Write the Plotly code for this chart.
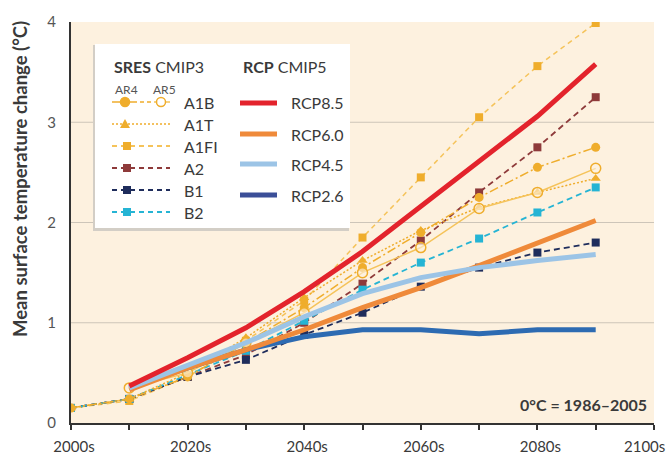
import plotly.graph_objects as go

# ---------------- data ----------------
years_sres = [2000, 2010, 2020, 2030, 2040, 2050, 2060, 2070, 2080, 2090]
a1b_ar4 = [0.15, 0.24, 0.46, 0.80, 1.15, 1.55, 1.90, 2.25, 2.55, 2.75]
a1b_ar5 = [None, 0.35, 0.50, 0.80, 1.10, 1.50, 1.75, 2.14, 2.30, 2.54]
a1t = [0.15, 0.24, 0.50, 0.85, 1.25, 1.62, 1.92, 2.15, 2.30, 2.44]
a1fi = [0.15, 0.22, 0.46, 0.82, 1.22, 1.85, 2.45, 3.05, 3.56, 3.99]
a2 = [0.15, 0.24, 0.46, 0.68, 1.00, 1.39, 1.82, 2.30, 2.75, 3.25]
b1 = [0.15, 0.24, 0.46, 0.63, 0.88, 1.10, 1.36, 1.55, 1.70, 1.80]
b2 = [0.15, 0.24, 0.48, 0.72, 1.02, 1.33, 1.60, 1.84, 2.10, 2.35]

years_rcp = [2010, 2020, 2030, 2040, 2050, 2060, 2070, 2080, 2090]
rcp85 = [0.37, 0.65, 0.95, 1.31, 1.71, 2.16, 2.61, 3.06, 3.58]
rcp60 = [0.33, 0.55, 0.73, 0.93, 1.15, 1.35, 1.57, 1.80, 2.02]
rcp45 = [0.35, 0.58, 0.80, 1.06, 1.29, 1.45, 1.55, 1.62, 1.68]
rcp26 = [0.35, 0.55, 0.73, 0.86, 0.93, 0.93, 0.89, 0.93, 0.93]

x_tickvals = [2000, 2010, 2020, 2030, 2040, 2050, 2060, 2070, 2080, 2090, 2100]
x_ticktext = ["2000s", "", "2020s", "", "2040s", "", "2060s", "", "2080s", "", ""]
y_tickvals = [0, 1, 2, 3, 4]
y_ticktext = ["0", "1", "2", "3", "4"]
gridvals = [1, 2, 3]

FONT = "Lato, Open Sans, sans-serif"
TXT = "#3a3a3a"
GOLD = "#efad2c"
GOLD_L = "#f5c35a"
A2C = "#8e3a3a"
B1C = "#1f2d5c"
B2C = "#25b4d4"
RED = "#e3232c"
ORANGE = "#ef8a3a"
LBLUE = "#9cc4e6"
BLUE = "#2d6bb2"
BLUE_LEG = "#3b4f98"

# plot area in pixels
L, R, T, B = 71, 654, 22, 423
W, H = 669, 456


def PX(x):
    return (x - L) / (R - L)


def PY(y):
    return (B - y) / (B - T)


fig = go.Figure()

# SRES series
fig.add_trace(go.Scatter(x=years_sres, y=a1fi, mode="lines+markers",
                         line=dict(color=GOLD_L, width=1.5, dash="5px,4px"),
                         marker=dict(symbol="square", size=8, color=GOLD)))
fig.add_trace(go.Scatter(x=years_sres, y=a2, mode="lines+markers",
                         line=dict(color=A2C, width=1.8, dash="6px,4px"),
                         marker=dict(symbol="square", size=8, color=A2C)))
fig.add_trace(go.Scatter(x=years_sres, y=b1, mode="lines+markers",
                         line=dict(color=B1C, width=1.8, dash="6px,4px"),
                         marker=dict(symbol="square", size=8, color=B1C)))
fig.add_trace(go.Scatter(x=years_sres, y=b2, mode="lines+markers",
                         line=dict(color=B2C, width=1.8, dash="6px,4px"),
                         marker=dict(symbol="square", size=8, color=B2C)))
fig.add_trace(go.Scatter(x=years_sres, y=a1t, mode="lines+markers",
                         line=dict(color=GOLD, width=1.5, dash="2px,2px"),
                         marker=dict(symbol="triangle-up", size=9, color=GOLD)))
fig.add_trace(go.Scatter(x=years_sres, y=a1b_ar4, mode="lines+markers",
                         line=dict(color=GOLD, width=1.5, dash="9px,3px,2px,3px"),
                         marker=dict(symbol="circle", size=9, color=GOLD)))
fig.add_trace(go.Scatter(x=years_sres, y=a1b_ar5, mode="lines+markers",
                         line=dict(color=GOLD_L, width=1.5),
                         marker=dict(symbol="circle", size=10, color="rgba(253,241,223,0.6)",
                                     line=dict(color=GOLD, width=1.5))))

# RCP series
for vals, col in [(rcp26, BLUE), (rcp60, ORANGE), (rcp45, LBLUE), (rcp85, RED)]:
    fig.add_trace(go.Scatter(x=years_rcp, y=vals, mode="lines",
                             line=dict(color=col, width=5)))

shapes = []
# gridlines
for g in gridvals:
    shapes.append(dict(type="line", xref="paper", yref="y", x0=0, x1=1, y0=g, y1=g,
                       line=dict(color="#cdc5b9", width=1), layer="below"))

# legend box
bx0, bx1, by0, by1 = 95, 350, 44, 228
shapes.append(dict(type="rect", xref="paper", yref="paper",
                   x0=PX(bx0 - 2), x1=PX(bx1 - 1), y0=PY(by1 + 3), y1=PY(by0 + 1),
                   fillcolor="#d3cec6", line=dict(width=0), layer="above"))
shapes.append(dict(type="rect", xref="paper", yref="paper",
                   x0=PX(bx0), x1=PX(bx1), y0=PY(by1), y1=PY(by0),
                   fillcolor="white", line=dict(width=0), layer="above"))

annotations = []


def text(x, y, s, size=15, color=TXT, anchor="left", bold=False):
    annotations.append(dict(xref="paper", yref="paper", x=PX(x), y=PY(y), text=s,
                            showarrow=False, xanchor=anchor, yanchor="middle",
                            font=dict(family=FONT, size=size, color=color,
                                      weight="bold" if bold else "normal")))


def hline(x0, x1, y, color, width, dash="solid"):
    shapes.append(dict(type="line", xref="paper", yref="paper", x0=PX(x0), x1=PX(x1),
                       y0=PY(y), y1=PY(y), line=dict(color=color, width=width, dash=dash),
                       layer="above"))


def square(x, y, color, s=4):
    shapes.append(dict(type="rect", xref="paper", yref="paper", x0=PX(x - s), x1=PX(x + s),
                       y0=PY(y + s), y1=PY(y - s), fillcolor=color, line=dict(width=0),
                       layer="above"))


def circle(x, y, color, r=4.5, fill=True):
    shapes.append(dict(type="circle", xref="paper", yref="paper", x0=PX(x - r), x1=PX(x + r),
                       y0=PY(y + r), y1=PY(y - r),
                       fillcolor=color if fill else "white",
                       line=dict(color=color, width=1.5), layer="above"))


def triangle(x, y, color, s=5):
    path = "M {} {} L {} {} L {} {} Z".format(PX(x - s), PY(y + s * 0.8), PX(x + s),
                                              PY(y + s * 0.8), PX(x), PY(y - s))
    shapes.append(dict(type="path", xref="paper", yref="paper", path=path,
                       fillcolor=color, line=dict(width=0), layer="above"))


text(112, 66, "<b>SRES</b> CMIP3", size=16)
text(241, 66, "<b>RCP</b> CMIP5", size=16)
text(113, 89, "AR4", size=12, color="#555")
text(151, 89, "AR5", size=12, color="#555")

rows = [("A1B", 102), ("A1T", 124), ("A1FI", 146), ("A2", 168), ("B1", 190), ("B2", 212)]
for lab, y in rows:
    text(182, y, lab, size=16)

# A1B sample
hline(112, 137, 102, GOLD, 1.5)
hline(140, 154, 102, GOLD, 1.5, "4px,3px")
hline(154, 170, 102, GOLD_L, 1.5)
circle(125, 102, GOLD)
circle(161, 102, GOLD, fill=False)
# A1T
hline(112, 170, 124, GOLD, 1.5, "2px,2px")
triangle(125, 124, GOLD)
# A1FI, A2, B1, B2
for (lab, y), lc, mc in [(rows[2], GOLD_L, GOLD), (rows[3], A2C, A2C),
                          (rows[4], B1C, B1C), (rows[5], B2C, B2C)]:
    hline(112, 170, y, lc, 1.8, "5px,4px")
    square(127, y, mc)

# RCP legend
for lab, y, col in [("RCP8.5", 103, RED), ("RCP6.0", 134, ORANGE),
                    ("RCP4.5", 164, LBLUE), ("RCP2.6", 195, BLUE_LEG)]:
    hline(240, 277, y, col, 5)
    text(289, y, lab, size=16)

# baseline note
text(649, 404, "0°C = 1986–2005", size=16, bold=True, anchor="right")

# y axis title
annotations.append(dict(xref="paper", yref="paper", x=PX(20), y=PY(179),
                        text="Mean surface temperature change (°C)", textangle=-90,
                        showarrow=False, xanchor="center", yanchor="middle",
                        font=dict(family=FONT, size=18.5, color=TXT, weight="bold")))
# last x label (shifted to fit page)
annotations.append(dict(xref="paper", yref="paper", x=PX(667), y=PY(446), text="2100s",
                        showarrow=False, xanchor="right", yanchor="middle",
                        font=dict(family=FONT, size=15, color=TXT)))

fig.update_layout(
    width=W, height=H,
    margin=dict(l=L, r=W - R, t=T, b=H - B, pad=0, autoexpand=False),
    paper_bgcolor="white", plot_bgcolor="#fdf1df",
    showlegend=False,
    shapes=shapes, annotations=annotations,
    xaxis=dict(range=[2000, 2100], tickvals=x_tickvals, ticktext=x_ticktext,
               showgrid=False, zeroline=False, showline=True, linecolor="#333",
               linewidth=2, ticks="outside", ticklen=5, tickwidth=2, tickcolor="#333",
               ticklabelstandoff=4, ticklabelshift=3, automargin=False,
               tickfont=dict(family=FONT, size=15, color=TXT)),
    yaxis=dict(range=[0, 4], tickvals=y_tickvals, ticktext=y_ticktext,
               showgrid=False, zeroline=False, showline=True, linecolor="#333",
               linewidth=2, ticks="", ticklabelstandoff=10, automargin=False,
               tickfont=dict(family=FONT, size=15, color="#555")),
)

fig.write_html("out.html", config={"displayModeBar": False},
               post_script="document.body.style.margin='0';document.body.style.padding='0';")
